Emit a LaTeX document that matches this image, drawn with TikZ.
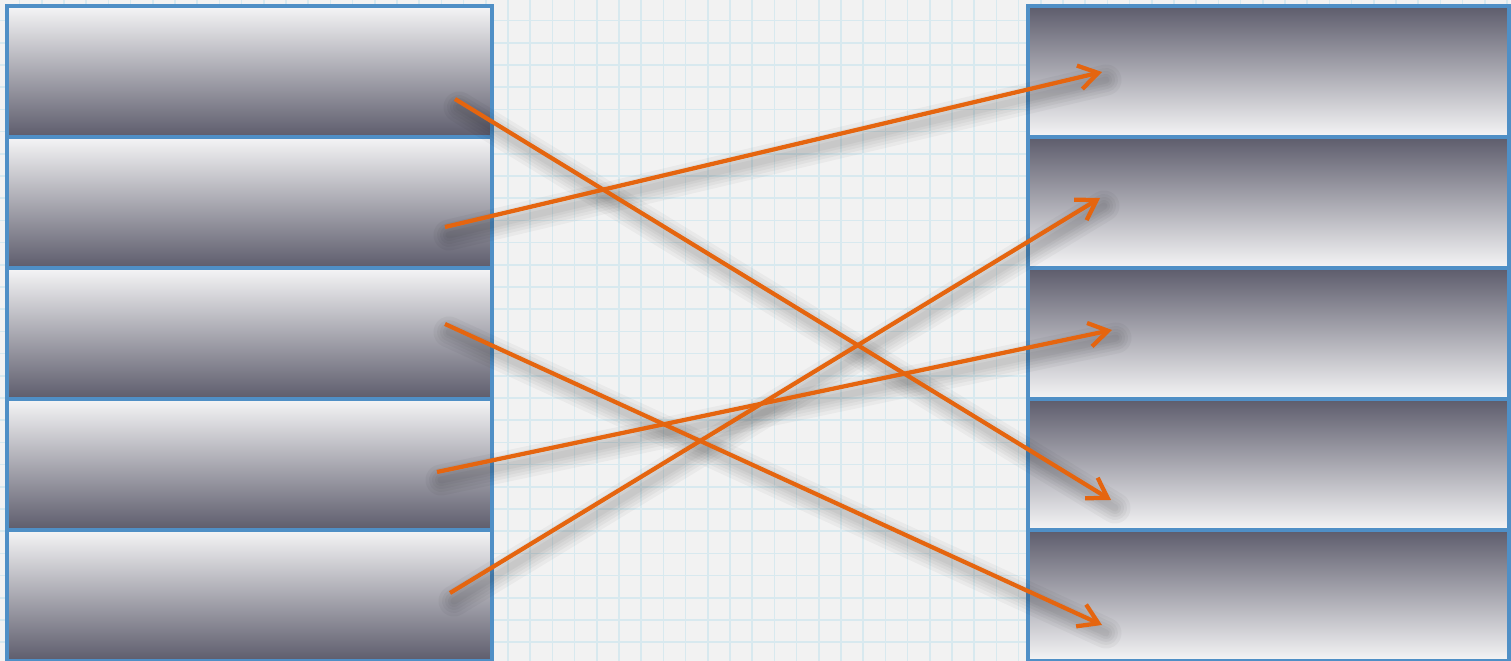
\documentclass[tikz,border=0pt]{standalone}
\usetikzlibrary{arrows.meta}
\definecolor{paper}{HTML}{F2F2F2}
\definecolor{gridblue}{HTML}{D8E9EF}
\definecolor{frame}{HTML}{4F8FC6}
\definecolor{shadelight}{HTML}{F5F5F6}
\definecolor{shadedark}{HTML}{5D5C6C}
\definecolor{linkorange}{HTML}{E5650F}
\begin{document}
\begin{tikzpicture}[x=0.02cm,y=-0.02cm,
 gridline/.style={gridblue,line width=0.03cm},
 cell/.style={draw=frame,line width=0.08cm,minimum height=2.62cm,inner sep=0pt,outer sep=0pt},
 lbox/.style={cell,minimum width=9.72cm,top color=shadelight,bottom color=shadedark},
 rbox/.style={cell,minimum width=9.64cm,top color=shadedark,bottom color=shadelight},
 link/.style={draw=linkorange,line width=0.085cm,-{Straight Barb[length=0.38cm,width=0.48cm]}},
 haze/.style={black,opacity=0.035,line cap=round}]
\clip (0,0) rectangle (1511,661);
\fill[paper] (0,0) rectangle (1511,661);
\foreach \k in {0,...,67}
 \draw[gridline] ({19.6+22.2*\k},0) -- ++(0,661);
\foreach \k in {0,...,29}
 \draw[gridline] (0,{20.6+22.2*\k}) -- ++(1511,0);
\foreach \i in {1,...,5}{
 \node[lbox] (L\i) at (249.5,{6+131*(\i-1)+65.5}) {};
 \node[rbox] (R\i) at (1268.5,{6+131*(\i-1)+65.5}) {};
}
\foreach \n/\x/\y in {L1/455/99,L2/445/227,L3/445/324,L4/437/472,L5/450/593}
 \coordinate (\n-out) at (\x,\y);
\foreach \n/\x/\y in {R1/1102/72,R2/1100/198,R3/1112/330,R4/1111/500,R5/1102/625}
 \coordinate (\n-in) at (\x,\y);
\foreach \a/\b in {L1/R4,L2/R1,L3/R5,L4/R3,L5/R2}
 \foreach \w in {0.62,0.48,0.36,0.24,0.14}
  \draw[haze,line width=\w cm] ([shift={(4,8)}]\a-out) -- ([shift={(4,8)}]\b-in);
\foreach \a/\b in {L1/R4,L2/R1,L3/R5,L4/R3,L5/R2}
 \draw[link] (\a-out) -- (\b-in);
\end{tikzpicture}
\end{document}
